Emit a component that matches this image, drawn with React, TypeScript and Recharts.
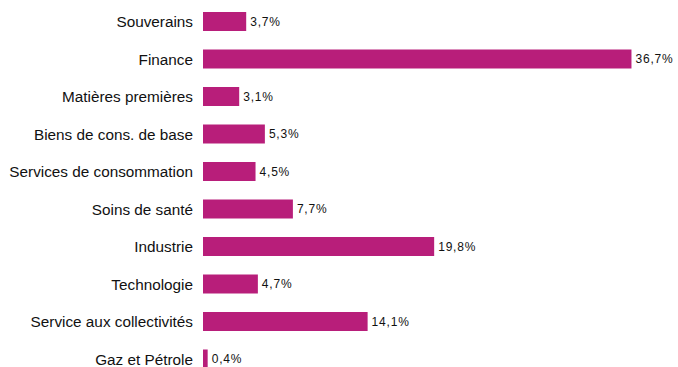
import { BarChart, Bar, XAxis, YAxis, LabelList } from 'recharts';

const SECTORS = [
  'Souverains',
  'Finance',
  'Matières premières',
  'Biens de cons. de base',
  'Services de consommation',
  'Soins de santé',
  'Industrie',
  'Technologie',
  'Service aux collectivités',
  'Gaz et Pétrole',
];

const WEIGHTS = [3.7, 36.7, 3.1, 5.3, 4.5, 7.7, 19.8, 4.7, 14.1, 0.4];

const X_DOMAIN = [0, 40];

const chartData = SECTORS.map((sector, i) => ({ sector, weight: WEIGHTS[i] }));

const fmt = (v: any) => `${Number(v).toFixed(1).replace('.', ',')}%`;

export default function App() {
  return (
    <div style={{ position: 'absolute', left: 0, top: 0, width: 678, height: 367, overflow: 'hidden', background: '#fff' }}>
      <BarChart
        width={678}
        height={378}
        data={chartData}
        layout="vertical"
        margin={{ top: 3, right: 8, bottom: 0, left: 0 }}
        barSize={19}
      >
        <XAxis type="number" domain={X_DOMAIN} hide />
        <YAxis
          type="category"
          dataKey="sector"
          width={203}
          axisLine={false}
          tickLine={false}
          tickSize={0}
          tickMargin={10}
          tick={{ fontSize: 15.3, fill: '#111', fontFamily: 'Liberation Sans, Arial, sans-serif' }}
        />
        <Bar dataKey="weight" fill="#B81E7A" isAnimationActive={false}>
          <LabelList
            dataKey="weight"
            position="right"
            offset={4}
            formatter={fmt}
            style={{ fontSize: 12, fill: '#111', letterSpacing: 0.8, fontFamily: 'Liberation Sans, Arial, sans-serif' }}
          />
        </Bar>
      </BarChart>
    </div>
  );
}
